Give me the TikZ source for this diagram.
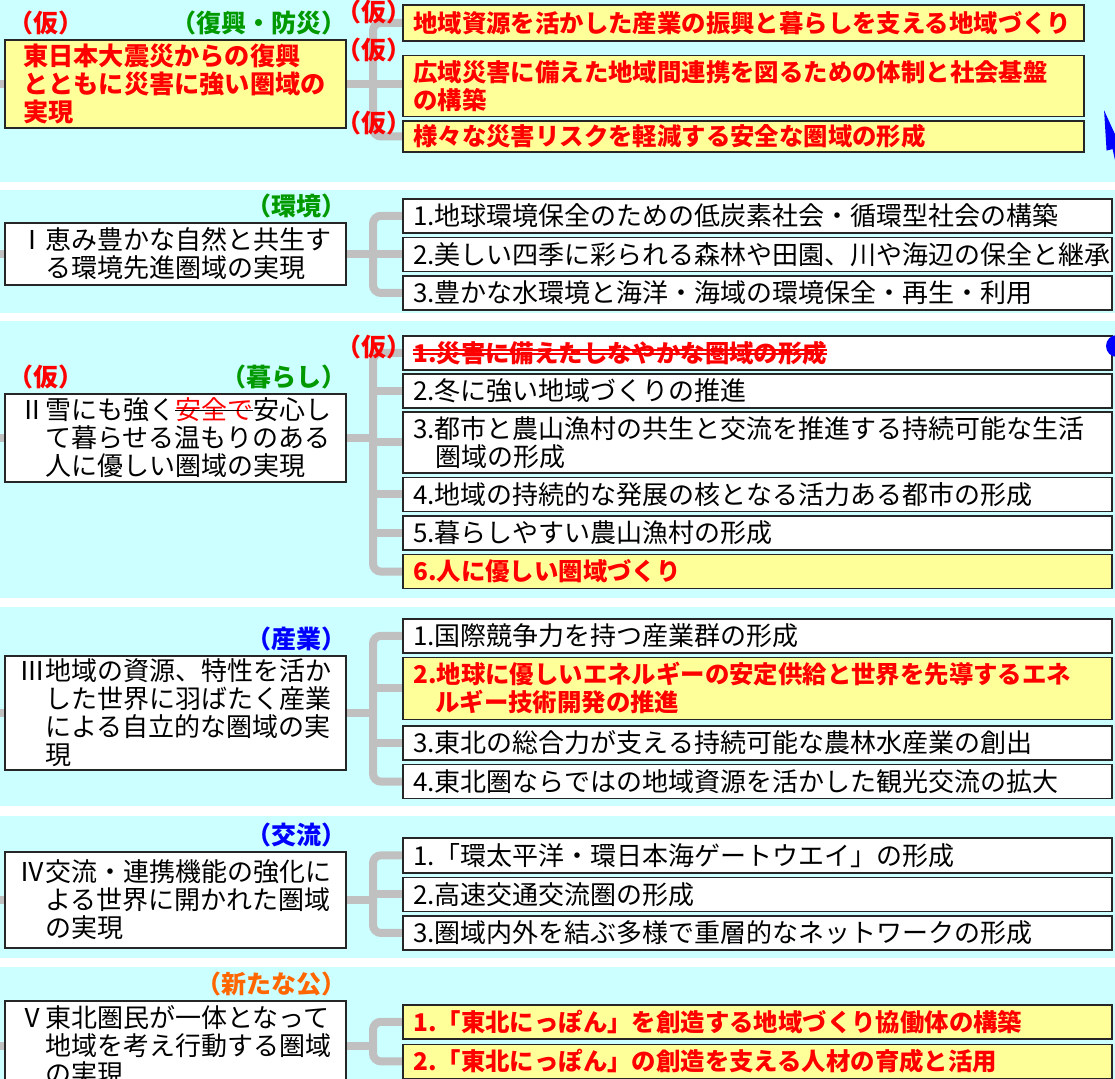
\documentclass[tikz,border=0pt]{standalone}
\usepackage{fontspec}
\setmainfont{Noto Sans CJK JP}
\usetikzlibrary{positioning,arrows.meta}
\definecolor{bandcyan}{HTML}{CCFFFF}
\definecolor{boxyellow}{HTML}{FFFF99}
\definecolor{linkgray}{HTML}{C0C0C0}
\definecolor{tagred}{HTML}{FF0000}
\definecolor{taggreen}{HTML}{009900}
\definecolor{tagblue}{HTML}{0000FF}
\definecolor{tagorange}{HTML}{FF6600}
\newcommand\numeral[1]{\makebox[1em][l]{#1}}
\newcommand\struck[1]{\setbox0\hbox{#1}\copy0\llap{\rule[0.32em]{\wd0}{0.9pt}}}
\newcommand\dstruck[1]{\setbox0\hbox{#1}\copy0\llap{\rule[0.28em]{\wd0}{0.9pt}}\llap{\rule[0.46em]{\wd0}{0.9pt}}}
\pgfdeclarelayer{back}
\pgfdeclarelayer{links}
\pgfsetlayers{back,links,main}
\tikzstyle{goal} = [rectangle, draw=black!85, line width=0.8pt, fill=white,
    minimum width=170.5pt, text width=156pt, inner xsep=7pt, inner ysep=1pt, align=left,
    anchor=north west, font=\fontsize{13}{14}\selectfont]
\tikzstyle{measure} = [rectangle, draw=black!85, line width=0.8pt, fill=white,
    minimum width=354.5pt, text width=344pt, inner xsep=5pt, inner ysep=1pt, align=left,
    minimum height=17pt, font=\fontsize{13}{14}\selectfont]
\tikzstyle{narrow} = [minimum width=340.5pt, text width=330pt]
\tikzstyle{redtext} = [text=tagred, font=\fontsize{12.2}{14}\selectfont\bfseries]
\tikzstyle{hot} = [redtext, fill=boxyellow]
\tikzstyle{tag} = [inner sep=0pt, font=\fontsize{12.5}{14}\selectfont\bfseries]
\tikzstyle{branch} = [draw=linkgray, line width=4pt, rounded corners=4pt]

\begin{document}
\begin{tikzpicture}[x=0.5pt, y=-0.5pt]
    \useasboundingbox (0,0) rectangle (1115,1079);
    \begin{pgfonlayer}{back}
        \fill[white] (0,0) rectangle (1115,1079);
        \fill[bandcyan] (0,0) rectangle (1115,182);
        \fill[bandcyan] (0,190) rectangle (1115,313);
        \fill[bandcyan] (0,321) rectangle (1115,598);
        \fill[bandcyan] (0,607) rectangle (1115,806);
        \fill[bandcyan] (0,816) rectangle (1115,958);
        \fill[bandcyan] (0,967) rectangle (1115,1079);
    \end{pgfonlayer}
    \coordinate (rim) at (0,0);

    \node[goal, hot, text width=152pt, inner xsep=9pt, minimum height=44pt,
        font=\fontsize{12.6}{14}\selectfont\bfseries] (g0) at (4,39)
        {東日本大震災からの復興\\とともに災害に強い圏域の\\実現};
    \node[tag, text=tagred, anchor=south west] (g0kari) at ([xshift=2pt,yshift=2pt]g0.north west) {（仮）};
    \node[tag, text=taggreen, anchor=south east] (g0tag) at ([yshift=2pt]g0.north east) {（復興・防災）};
    \node[measure, hot, narrow, minimum height=18pt, anchor=north west] (k1) at (402,4)
        {地域資源を活かした産業の振興と暮らしを支える地域づくり};
    \node[measure, hot, narrow, minimum height=30.5pt, below=6.5pt of k1] (k2)
        {広域災害に備えた地域間連携を図るための体制と社会基盤\\の構築};
    \node[measure, hot, narrow, minimum height=15.5pt, below=1.5pt of k2] (k3)
        {様々な災害リスクを軽減する安全な圏域の形成};
    \node[tag, text=tagred, anchor=east] (k1kari) at ([xshift=5pt,yshift=-4pt]k1.north west) {（仮）};
    \node[tag, text=tagred, anchor=east] (k2kari) at ([xshift=5pt,yshift=2.5pt]k2.north west) {（仮）};
    \node[tag, text=tagred, anchor=east] (k3kari) at ([xshift=5pt,yshift=-1.5pt]k3.north west) {（仮）};
    \coordinate (bar1) at (373,83);

    \node[goal, minimum height=31pt] (g1) at (4,222)
        {\numeral{Ⅰ}恵み豊かな自然と共生す\\\hspace*{1em}る環境先進圏域の実現};
    \node[tag, text=taggreen, anchor=south east] (g1tag) at ([yshift=2pt]g1.north east) {（環境）};
    \node[measure, anchor=north west] (r11) at (402,198) {1.地球環境保全のための低炭素社会・循環型社会の構築};
    \node[measure, below=1.5pt of r11] (r12) {2.美しい四季に彩られる森林や田園、川や海辺の保全と継承};
    \node[measure, below=1.5pt of r12] (r13) {3.豊かな水環境と海洋・海域の環境保全・再生・利用};
    \coordinate (bar2) at (373,253);

    \node[goal, minimum height=44pt] (g2) at (4,393)
        {\numeral{Ⅱ}雪にも強く\struck{\textcolor{tagred}{安全で}}安心し\\\hspace*{1em}て暮らせる温もりのある\\\hspace*{1em}人に優しい圏域の実現};
    \node[tag, text=tagred, anchor=south west] (g2kari) at ([xshift=2pt,yshift=2pt]g2.north west) {（仮）};
    \node[tag, text=taggreen, anchor=south east] (g2tag) at ([yshift=2pt]g2.north east) {（暮らし）};
    \node[measure, redtext, anchor=north west] (r21) at (402,335)
        {\dstruck{1.災害に備えたしなやかな圏域の形成}};
    \node[measure, below=1.2pt of r21] (r22) {2.冬に強い地域づくりの推進};
    \node[measure, minimum height=30.5pt, below=1.2pt of r22] (r23)
        {3.都市と農山漁村の共生と交流を推進する持続可能な生活\\\hspace*{0.85em}圏域の形成};
    \node[measure, below=1.5pt of r23] (r24) {4.地域の持続的な発展の核となる活力ある都市の形成};
    \node[measure, below=1.5pt of r24] (r25) {5.暮らしやすい農山漁村の形成};
    \node[measure, hot, below=1.5pt of r25] (r26) {6.人に優しい圏域づくり};
    \node[tag, text=tagred, anchor=east] (r21kari) at ([xshift=5pt,yshift=3pt]r21.west) {（仮）};
    \coordinate (bar3) at (373,437);

    \node[goal, minimum height=57pt] (g3) at (4,655)
        {\numeral{Ⅲ}地域の資源、特性を活か\\\hspace*{1em}した世界に羽ばたく産業\\\hspace*{1em}による自立的な圏域の実\\\hspace*{1em}現};
    \node[tag, text=tagblue, anchor=south east] (g3tag) at ([yshift=2pt]g3.north east) {（産業）};
    \node[measure, anchor=north west] (r31) at (402,618) {1.国際競争力を持つ産業群の形成};
    \node[measure, hot, minimum height=31pt, below=1.5pt of r31] (r32)
        {2.地球に優しいエネルギーの安定供給と世界を先導するエネ\\\hspace*{0.9em}ルギー技術開発の推進};
    \node[measure, below=2.5pt of r32] (r33) {3.東北の総合力が支える持続可能な農林水産業の創出};
    \node[measure, below=1.5pt of r33] (r34) {4.東北圏ならではの地域資源を活かした観光交流の拡大};
    \coordinate (bar4) at (373,712);

    \node[goal, minimum height=48pt] (g4) at (4,851)
        {\numeral{Ⅳ}交流・連携機能の強化に\\\hspace*{1em}よる世界に開かれた圏域\\\hspace*{1em}の実現};
    \node[tag, text=tagblue, anchor=south east] (g4tag) at ([yshift=2pt]g4.north east) {（交流）};
    \node[measure, minimum height=17.5pt, anchor=north west] (r41) at (402,837) {1.「環太平洋・環日本海ゲートウエイ」の形成};
    \node[measure, below=1.5pt of r41] (r42) {2.高速交通交流圏の形成};
    \node[measure, below=1.5pt of r42] (r43) {3.圏域内外を結ぶ多様で重層的なネットワークの形成};
    \coordinate (bar5) at (373,899);

    \node[goal, minimum height=45pt] (g5) at (4,1000)
        {\numeral{Ⅴ}東北圏民が一体となって\\\hspace*{1em}地域を考え行動する圏域\\\hspace*{1em}の実現};
    \node[tag, text=tagorange, anchor=south east] (g5tag) at ([yshift=2pt]g5.north east) {（新たな公）};
    \node[measure, hot, anchor=north west] (r51) at (402,1004)
        {1.「東北にっぽん」を創造する地域づくり協働体の構築};
    \node[measure, hot, below=2pt of r51] (r52)
        {2.「東北にっぽん」の創造を支える人材の育成と活用};
    \coordinate (bar6) at (373,1045);

    \begin{pgfonlayer}{links}
        \path[branch] (g0.west) -- (g0.west -| rim);
        \path[branch] (g0.east) -- (g0.east -| k2.west);
        \path[branch] (k1.west) -| (bar1) |- (k3.west);

        \path[branch] (g1.west) -- (g1.west -| rim);
        \path[branch] (g1.east) -- (g1.east -| bar2);
        \path[branch] (r11.west) -| (bar2) |- (r13.west);
        \path[branch] (r12.west) -- (r12.west -| bar2);

        \path[branch] (g2.west) -- (g2.west -| rim);
        \path[branch] (g2.east) -- (g2.east -| bar3);
        \path[branch] (r21.west) -| (bar3) |- (r26.west);
        \path[branch] (r22.west) -- (r22.west -| bar3);
        \path[branch] (r23.west) -- (r23.west -| bar3);
        \path[branch] (r24.west) -- (r24.west -| bar3);
        \path[branch] (r25.west) -- (r25.west -| bar3);

        \path[branch] (g3.west) -- (g3.west -| rim);
        \path[branch] (g3.east) -- (g3.east -| bar4);
        \path[branch] (r31.west) -| (bar4) |- (r34.west);
        \path[branch] (r32.west) -- (r32.west -| bar4);
        \path[branch] (r33.west) -- (r33.west -| bar4);

        \path[branch] (g4.west) -- (g4.west -| rim);
        \path[branch] (g4.east) -- (g4.east -| bar5);
        \path[branch] (r41.west) -| (bar5) |- (r43.west);
        \path[branch] (r42.west) -- (r42.west -| bar5);

        \path[branch] (g5.west) -- (g5.west -| rim);
        \path[branch] (g5.east) -- (g5.east -| bar6);
        \path[branch] (r51.west) -| (bar6) |- (r52.west);
    \end{pgfonlayer}

    \coordinate (dot) at (1117,346);
    \coordinate (tip) at (1104,110);
    \fill[blue] (dot) circle (5.5pt);
    \path[draw=blue, line width=1.2pt, -{Triangle[length=20pt,width=7pt]}]
        (dot) .. controls (1150,300) and (1114,150) .. (tip);
\end{tikzpicture}
\end{document}
